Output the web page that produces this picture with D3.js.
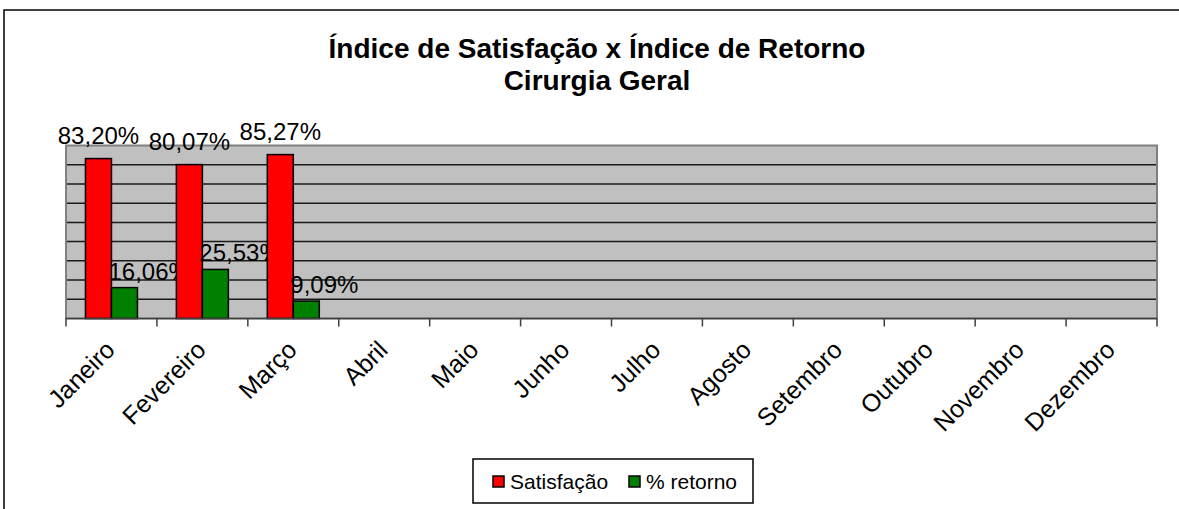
<!DOCTYPE html>
<html>
<head>
<meta charset="utf-8">
<script src="https://cdn.jsdelivr.net/npm/d3@7"></script>
<style>
  body { margin: 0; background: #fff; }
  text { font-family: "Liberation Sans", Arial, sans-serif; fill: #000; }
  .title { font-weight: bold; font-size: 28px; }
  .vlabel { font-size: 24px; }
  .axistext { font-size: 25px; }
  .legtext { font-size: 21px; }
</style>
</head>
<body>
<div class="chart"></div>
<script>
// data
var months = ["Janeiro", "Fevereiro", "Março", "Abril", "Maio", "Junho", "Julho",
              "Agosto", "Setembro", "Outubro", "Novembro", "Dezembro"];
var satisfacao = [83.20, 80.07, 85.27, null, null, null, null, null, null, null, null, null];
var retorno = [16.06, 25.53, 9.09, null, null, null, null, null, null, null, null, null];
var seriesNames = ["Satisfação", "% retorno"];
var seriesColors = ["#ff0000", "#008000"];
var yTicks = [10, 20, 30, 40, 50, 60, 70, 80];
var titleLines = ["Índice de Satisfação x Índice de Retorno", "Cirurgia Geral"];

// setup
var W = 1179, H = 509;
var margin = {top: 145.5, right: 22, bottom: 190.5, left: 66},
    width = W - margin.left - margin.right,
    height = H - margin.top - margin.bottom;

var svg = d3.select(".chart").append("svg")
    .attr("width", W)
    .attr("height", H);

// outer chart border (goes off the right and bottom edges)
svg.append("rect")
    .attr("x", 4).attr("y", 10)
    .attr("width", W + 10).attr("height", H + 10)
    .attr("fill", "#fff")
    .attr("stroke", "#000")
    .attr("stroke-width", 1.5);

// title
svg.selectAll(".title")
    .data(titleLines)
  .enter().append("text")
    .attr("class", "title")
    .attr("x", 597)
    .attr("y", function(d, i) { return 58 + i * 32; })
    .style("text-anchor", "middle")
    .text(function(d) { return d; });

var g = svg.append("g")
    .attr("transform", "translate(" + margin.left + "," + margin.top + ")");

var x0 = d3.scaleBand()
    .domain(months)
    .range([0, width])
    .padding(0);

var barW = x0.bandwidth() * 0.286;

var x1 = d3.scaleBand()
    .domain(seriesNames)
    .range([x0.bandwidth() / 2 - barW, x0.bandwidth() / 2 + barW]);

var y = d3.scaleLinear()
    .domain([0, 90])
    .range([height, 0]);

// plot area
g.append("rect")
    .attr("width", width)
    .attr("height", height)
    .attr("fill", "#c0c0c0");

g.selectAll(".grid")
    .data(yTicks)
  .enter().append("line")
    .attr("class", "grid")
    .attr("x1", 0).attr("x2", width)
    .attr("y1", function(d) { return y(d); })
    .attr("y2", function(d) { return y(d); })
    .attr("stroke", "#1a1a1a")
    .attr("stroke-width", 1.5);

g.append("rect")
    .attr("width", width)
    .attr("height", height)
    .attr("fill", "none")
    .attr("stroke", "#808080")
    .attr("stroke-width", 2);

// bars
var rows = months.map(function(m, i) {
  return {month: m, values: [satisfacao[i], retorno[i]]};
});

var groups = g.selectAll(".month")
    .data(rows)
  .enter().append("g")
    .attr("class", "month")
    .attr("transform", function(d) { return "translate(" + x0(d.month) + ",0)"; });

groups.selectAll("rect")
    .data(function(d) {
      return d.values.map(function(v, k) { return {name: seriesNames[k], k: k, v: v}; })
        .filter(function(e) { return e.v != null; });
    })
  .enter().append("rect")
    .attr("x", function(d) { return x1(d.name); })
    .attr("y", function(d) { return y(d.v); })
    .attr("width", x1.bandwidth())
    .attr("height", function(d) { return height - y(d.v); })
    .attr("fill", function(d) { return seriesColors[d.k]; })
    .attr("stroke", "#000")
    .attr("stroke-width", 1.5);

// value labels
var fmt = function(v) { return v.toFixed(2).replace(".", ",") + "%"; };

groups.selectAll(".vlabel")
    .data(function(d) {
      return d.values.map(function(v, k) { return {name: seriesNames[k], k: k, v: v}; })
        .filter(function(e) { return e.v != null; });
    })
  .enter().append("text")
    .attr("class", "vlabel")
    .attr("x", function(d) {
      return d.k == 0 ? x1(d.name) + x1.bandwidth() / 2 : x1(d.name) - 3;
    })
    .attr("y", function(d) { return y(d.v) - (d.k == 0 ? 15 : 8); })
    .style("text-anchor", function(d) { return d.k == 0 ? "middle" : "start"; })
    .text(function(d) { return fmt(d.v); });

// x axis: line and ticks at category boundaries
g.append("line")
    .attr("x1", 0).attr("x2", width)
    .attr("y1", height).attr("y2", height)
    .attr("stroke", "#404040")
    .attr("stroke-width", 1.5);

var bounds = months.map(function(m) { return x0(m); }).concat([width]);

g.selectAll(".xtick")
    .data(bounds)
  .enter().append("line")
    .attr("class", "xtick")
    .attr("x1", function(d) { return d; })
    .attr("x2", function(d) { return d; })
    .attr("y1", height).attr("y2", height + 8)
    .attr("stroke", "#404040")
    .attr("stroke-width", 1.5);

g.selectAll(".axistext")
    .data(months)
  .enter().append("text")
    .attr("class", "axistext")
    .attr("transform", function(d) {
      return "translate(" + (x0(d) + x0.bandwidth() / 2 + 5) + "," + (height + 33) + ") rotate(-45)";
    })
    .style("text-anchor", "end")
    .text(function(d) { return d; });

// legend
var legend = svg.append("g")
    .attr("transform", "translate(473,459)");

legend.append("rect")
    .attr("width", 280)
    .attr("height", 44)
    .attr("fill", "#fff")
    .attr("stroke", "#000")
    .attr("stroke-width", 1.5);

var legX = [20, 156];

var items = legend.selectAll(".item")
    .data(seriesNames)
  .enter().append("g")
    .attr("class", "item")
    .attr("transform", function(d, i) { return "translate(" + legX[i] + ",0)"; });

items.append("rect")
    .attr("y", 17)
    .attr("width", 11)
    .attr("height", 11)
    .attr("fill", function(d, i) { return seriesColors[i]; })
    .attr("stroke", "#000")
    .attr("stroke-width", 1.5);

items.append("text")
    .attr("class", "legtext")
    .attr("x", 17)
    .attr("y", 30)
    .text(function(d) { return d; });
</script>
</body>
</html>
